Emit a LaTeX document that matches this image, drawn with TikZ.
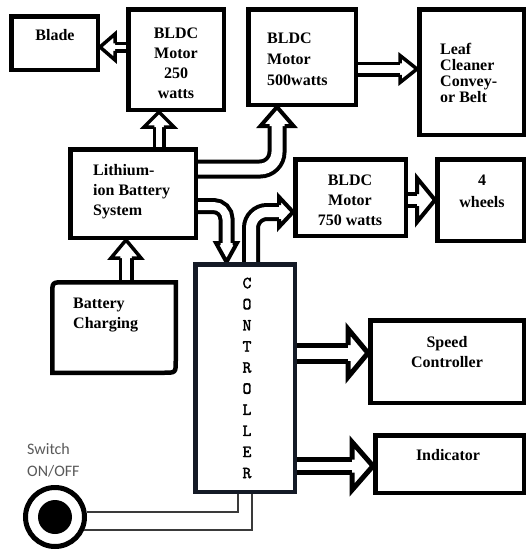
\documentclass[tikz,border=0pt]{standalone}
\usepackage{fontspec}
\setmainfont{Liberation Serif}
\newfontfamily\swfam{Carlito}
\newfontfamily\ctfam{lmmono10-regular.otf}[FakeBold=1.8]
\usetikzlibrary{calc,backgrounds}
\definecolor{navy}{HTML}{141A26}
\definecolor{wiregray}{HTML}{3A3A3A}
\definecolor{labelgray}{HTML}{5A5A5A}
\tikzset{
  box/.style={draw=black, line width=4.5pt, fill=white, rectangle, inner sep=0pt},
  txt/.style={font=\bfseries\fontsize{16}{20}\selectfont, inner sep=0pt, align=center},
  txtl/.style={txt, align=left, anchor=west},
  wire/.style={draw=wiregray, line width=1.5pt},
}
% arrow head: #1 base, #2 tip, #3 line width, #4 gap, #5 head half width
\newcommand\ahead[5]{%
  \pgfmathsetlengthmacro\ahsh{(#3+#4)/2}%
  \draw[line width=#3, fill=white, line join=miter]
    ($(#1)!\ahsh!90:(#2)$) -- ($(#1)!#5!90:(#2)$) -- (#2) --
    ($(#1)!#5!-90:(#2)$) -- ($(#1)!\ahsh!-90:(#2)$);
}
% straight hollow arrow: #1 start, #2 tip, #3 lw, #4 gap, #5 head half, #6 head length
\newcommand\blockarrow[6]{%
  \coordinate (hb) at ($(#2)!#6!(#1)$);
  \draw[line width=#3, double=white, double distance=#4, line cap=butt] (#1) -- (hb);
  \ahead{hb}{#2}{#3}{#4}{#5}%
}
\begin{document}
\begin{tikzpicture}[x=1pt,y=-1pt]
\useasboundingbox (0,0) rectangle (527,554);

% boxes
\node[box, minimum width=86.5pt, minimum height=53.5pt] (blade) at (54.5,43) {};
\node[box, minimum width=95.5pt, minimum height=100.5pt] (m250) at (176,59.5) {};
\node[box, minimum width=107.5pt, minimum height=95.5pt] (m500) at (302,57) {};
\node[box, minimum width=104.5pt, minimum height=125.5pt] (leaf) at (471.5,72) {};
\node[box, minimum width=125.5pt, minimum height=88.5pt] (li) at (133,193.5) {};
\node[rectangle, inner sep=0pt, outer sep=0pt, minimum width=123.5pt, minimum height=90.5pt] (charge) at (114,327.5) {};
\draw[line width=4.5pt, fill=white] (charge.south west) -- ($(charge.north west)+(0,12)$)
   .. controls (charge.north west) .. ($(charge.north west)+(12,0)$) -- (charge.north east)
   -- ($(charge.south east)+(0,-12)$) .. controls (charge.south east) .. ($(charge.south east)+(-12,0)$) -- cycle;
\node[box, draw=navy, minimum width=99.5pt, minimum height=227.5pt] (ctrl) at (245,378) {};
\node[box, minimum width=110.5pt, minimum height=76.5pt] (m750) at (350.5,197.5) {};
\node[box, minimum width=86.5pt, minimum height=81.5pt] (wheels) at (480.5,200) {};
\node[box, minimum width=153.5pt, minimum height=82.5pt] (speed) at (447,361.5) {};
\node[box, minimum width=148.5pt, minimum height=57.5pt] (ind) at (449.5,464) {};

% texts
\node[txt] (bladeT) at (55,35) {Blade};
\node[txt] (m250T) at (176,63) {BLDC\\Motor\\250\\watts};
\node[txtl, font=\bfseries\fontsize{16}{21}\selectfont] (m500T) at (267,59) {BLDC\\Motor\\500watts};
\node[txtl, font=\bfseries\fontsize{16}{16}\selectfont] (leafT) at (440,73) {Leaf\\Cleaner\\Convey-\\or Belt};
\node[txtl] (liT) at (93,192) {Lithium-\\ion Battery\\System};
\node[txtl] (chargeT) at (73,315) {Battery\\Charging};
\node[txt] (m750T) at (350,200) {BLDC\\Motor\\750 watts};
\node[txt, font=\bfseries\fontsize{16}{22}\selectfont] (wheelsT) at (482,191) {4\\wheels};
\node[txt] (speedT) at (447,352) {Speed\\Controller};
\node[txt] (indT) at (448,455) {Indicator};
\node[inner sep=0pt, align=center, font=\ctfam\fontsize{17}{21.1}\selectfont] (ctrlT) at (247,378)
  {C\\O\\N\\T\\R\\O\\L\\L\\E\\R};

% switch
\node[circle, draw=black, line width=5pt, minimum size=59pt, inner sep=0pt, fill=white] (sw) at (55,517) {};
\fill[black] (sw.center) circle (17pt);
\node[inner sep=0pt, anchor=west, align=left, text=labelgray, font=\swfam\fontsize{16}{22}\selectfont] (swT) at (27,460) {Switch\\ON/OFF};
\draw[wire] (sw.9) -| ($(ctrl.south)+(-7,0)$);
\draw[wire] (sw.-24) -| ($(ctrl.south)+(7,0)$);

\begin{pgfonlayer}{background}
\fill[white] (0,0) rectangle (527,554);
% straight arrows
\coordinate (a1s) at ($(m250.west)+(0,-12.5)$);
\coordinate (a1t) at (blade.east |- a1s);
\blockarrow{a1s}{a1t}{3.5pt}{4pt}{13pt}{15pt}
\coordinate (a2t) at ($(m250.south)+(-17,0)$);
\coordinate (a2s) at (a2t |- li.north);
\blockarrow{a2s}{a2t}{3.5pt}{6pt}{15pt}{15pt}
\coordinate (a3s) at ($(m500.east)+(0,12)$);
\coordinate (a3t) at (leaf.west |- a3s);
\blockarrow{a3s}{a3t}{3.5pt}{8pt}{13.5pt}{17pt}
\coordinate (a4s) at ($(m750.east)+(0,2.5)$);
\coordinate (a4t) at (wheels.west |- a4s);
\blockarrow{a4s}{a4t}{4pt}{8pt}{22pt}{18pt}
\coordinate (a5s) at ($(ctrl.east |- speed.west)+(0,-8.5)$);
\coordinate (a5t) at (speed.west |- a5s);
\blockarrow{a5s}{a5t}{5pt}{11pt}{24pt}{20pt}
\coordinate (a6s) at ($(ctrl.east |- ind.west)+(0,2)$);
\coordinate (a6t) at (ind.west |- a6s);
\blockarrow{a6s}{a6t}{5pt}{8pt}{24pt}{21pt}
\coordinate (a7s) at ($(charge.north)+(12,0)$);
\coordinate (a7t) at (a7s |- li.south);
\blockarrow{a7s}{a7t}{3.5pt}{8pt}{15pt}{18pt}
% curved arrows
\coordinate (a8s) at ($(li.east)+(0,-24.5)$);
\coordinate (a8t) at ($(m500.south)+(-25,0)$);
\coordinate (a8b) at ($(a8t)+(0,19)$);
\draw[line width=4pt, double=white, double distance=11pt, line cap=butt, rounded corners=17pt] (a8s) -| (a8b);
\ahead{a8b}{a8t}{4pt}{11pt}{16.5pt}
\coordinate (a9s) at ($(li.east)+(0,12.5)$);
\coordinate (a9t) at ($(ctrl.north)+(-18.5,0)$);
\coordinate (a9b) at ($(a9t)+(0,-19)$);
\draw[line width=4pt, double=white, double distance=8pt, line cap=butt, rounded corners=13pt] (a9s) -| (a9b);
\ahead{a9b}{a9t}{4pt}{8pt}{10.5pt}
\coordinate (a10s) at ($(ctrl.north)+(6,0)$);
\coordinate (a10t) at ($(m750.west)+(0,14.5)$);
\coordinate (a10b) at ($(a10t)+(-14,0)$);
\draw[line width=4pt, double=white, double distance=10pt, line cap=butt, rounded corners=16pt] (a10s) |- (a10b);
\ahead{a10b}{a10t}{4pt}{10pt}{15pt}
\end{pgfonlayer}
\end{tikzpicture}
\end{document}
